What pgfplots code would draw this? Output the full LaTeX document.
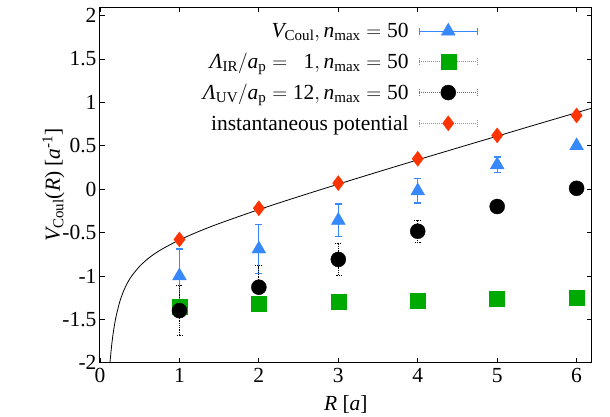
\documentclass[border=0pt]{standalone}
\usepackage{amsmath}
\usepackage{fontspec}
\setmainfont{Liberation Serif}
\usepackage{pgfplots}
\pgfplotsset{compat=1.18}
\definecolor{cblue}{RGB}{55,136,250}
\definecolor{cgreen}{RGB}{0,170,0}
\definecolor{cred}{RGB}{255,51,0}
\definecolor{lgreen}{RGB}{60,200,60}
\definecolor{lred}{RGB}{255,110,90}
\definecolor{lgray}{RGB}{110,110,110}
\newcommand{\bigf}{\fontsize{21.5}{25}\selectfont}
\begin{document}
\begin{tikzpicture}[font=\bigf]
\useasboundingbox (-100pt,-54.3pt) rectangle (510pt,362.7pt);
\begin{axis}[
  scale only axis,
  width=491.7pt, height=355.4pt,
  xmin=0, xmax=6.19, ymin=-2, ymax=2.096,
  xtick={0,1,2,3,4,5,6},
  ytick={-2,-1.5,-1,-0.5,0,0.5,1,1.5,2},
  tick align=inside, major tick length=5pt,
  axis line style={line width=1pt},
  tick style={line width=0.8pt, black},
  /pgf/number format/assume math mode=true,
  tick label style={font=\bigf},
  xticklabel style={yshift=-2pt},
  label style={font=\bigf},
  xlabel={\textit{R} [\textit{a}]},
  ylabel={$\textit{V}_{\text{Coul}}$(\textit{R}) [\textit{a}\textsuperscript{-1}]},
  xlabel style={yshift=-6pt},
  ylabel style={yshift=-9pt},
  legend style={draw=none, fill=none, font=\bigf,
    at={(0.775,0.967)}, anchor=north east, row sep=10pt,
    /tikz/every odd column/.style={column sep=8pt}},
  legend cell align=right,
  legend plot pos=right,
  clip=true,
]
% theory curve
\addplot[black, line width=0.8pt, smooth, forget plot] coordinates {
(0.12,-2.065)(0.13,-1.953)(0.15,-1.774)(0.17,-1.635)(0.2,-1.477)(0.25,-1.294)
(0.3,-1.167)(0.35,-1.073)(0.4,-0.999)(0.5,-0.888)(0.6,-0.804)(0.7,-0.737)
(0.8,-0.681)(1.0,-0.585)(1.25,-0.485)(1.5,-0.396)(2,-0.235)(2.5,-0.086)
(3,0.058)(3.5,0.199)(4,0.338)(4.5,0.475)(5,0.611)(5.5,0.747)(6,0.882)(6.2,0.936)};
% V_Coul
\addplot[only marks, mark=triangle*, mark size=8pt, color=cblue, forget plot,
  error bars/.cd, y dir=both, y explicit,
  error bar style={line width=1.2pt, cblue},
  error mark options={rotate=90, mark size=3.5pt, line width=1.2pt, cblue}]
  coordinates {
  (1,-1.00) +- (0,0.31)
  (2,-0.69) +- (0,0.28)
  (3,-0.36) +- (0,0.19)
  (4,-0.02) +- (0,0.14)
  (5,0.28) +- (0,0.09)
  (6,0.50) +- (0,0.03)};
% Lambda IR
\addplot[only marks, mark=square*, mark size=7.5pt, color=cgreen, forget plot]
  coordinates {(1,-1.35)(2,-1.32)(3,-1.30)(4,-1.28)(5,-1.26)(6,-1.25)};
% Lambda UV
\addplot[only marks, mark=*, mark size=7.5pt, color=black, forget plot,
  error bars/.cd, y dir=both, y explicit,
  error bar style={line width=0.8pt, densely dotted, black},
  error mark options={rotate=90, mark size=3.5pt, line width=0.8pt, black, densely dotted}]
  coordinates {
  (1,-1.40) +- (0,0.29)
  (2,-1.13) +- (0,0.25)
  (3,-0.81) +- (0,0.18)
  (4,-0.485) +- (0,0.13)
  (5,-0.20) +- (0,0.04)
  (6,0.01) +- (0,0.02)};
% instantaneous
\addplot[only marks, mark=diamond*, mark size=7.5pt, color=cred, forget plot]
  coordinates {(1,-0.58)(2,-0.22)(3,0.07)(4,0.35)(5,0.62)(6,0.85)};
% legend
\addlegendimage{legend image code/.code={
  \draw[cblue, line width=1.2pt] (0pt,0pt) -- (58pt,0pt);
  \draw[cblue, line width=1.2pt] (0pt,-3.5pt) -- (0pt,3.5pt);
  \draw[cblue, line width=1.2pt] (58pt,-3.5pt) -- (58pt,3.5pt);
  \fill[cblue] plot[mark=triangle*, mark size=8pt] coordinates {(29pt,0pt)};}}
\addlegendentry{$\textit{V}_{\text{Coul}}, \textit{n}_{\text{max}} = \text{50}$}
\addlegendimage{legend image code/.code={
  \draw[lgreen, line width=1pt, densely dotted] (0pt,0pt) -- (58pt,0pt);
  \draw[lgreen, line width=1pt, densely dotted] (0pt,-3.5pt) -- (0pt,3.5pt);
  \draw[lgreen, line width=1pt, densely dotted] (58pt,-3.5pt) -- (58pt,3.5pt);
  \fill[cgreen] plot[mark=square*, mark size=7.5pt] coordinates {(29pt,0pt)};}}
\addlegendentry{$\textit{Λ}_{\text{IR}}/\textit{a}_{\text{p}} = \text{\phantom{1}1}, \textit{n}_{\text{max}} = \text{50}$}
\addlegendimage{legend image code/.code={
  \draw[lgray, line width=1pt, densely dotted] (0pt,0pt) -- (58pt,0pt);
  \draw[lgray, line width=1pt, densely dotted] (0pt,-3.5pt) -- (0pt,3.5pt);
  \draw[lgray, line width=1pt, densely dotted] (58pt,-3.5pt) -- (58pt,3.5pt);
  \fill[black] plot[mark=*, mark size=7.5pt] coordinates {(29pt,0pt)};}}
\addlegendentry{$\textit{Λ}_{\text{UV}}/\textit{a}_{\text{p}} = \text{12}, \textit{n}_{\text{max}} = \text{50}$}
\addlegendimage{legend image code/.code={
  \draw[lred, line width=1pt, densely dotted] (0pt,0pt) -- (58pt,0pt);
  \draw[lred, line width=1pt, densely dotted] (0pt,-3.5pt) -- (0pt,3.5pt);
  \draw[lred, line width=1pt, densely dotted] (58pt,-3.5pt) -- (58pt,3.5pt);
  \fill[cred] plot[mark=diamond*, mark size=7.5pt] coordinates {(29pt,0pt)};}}
\addlegendentry{instantaneous potential}
\end{axis}
\end{tikzpicture}
\end{document}
